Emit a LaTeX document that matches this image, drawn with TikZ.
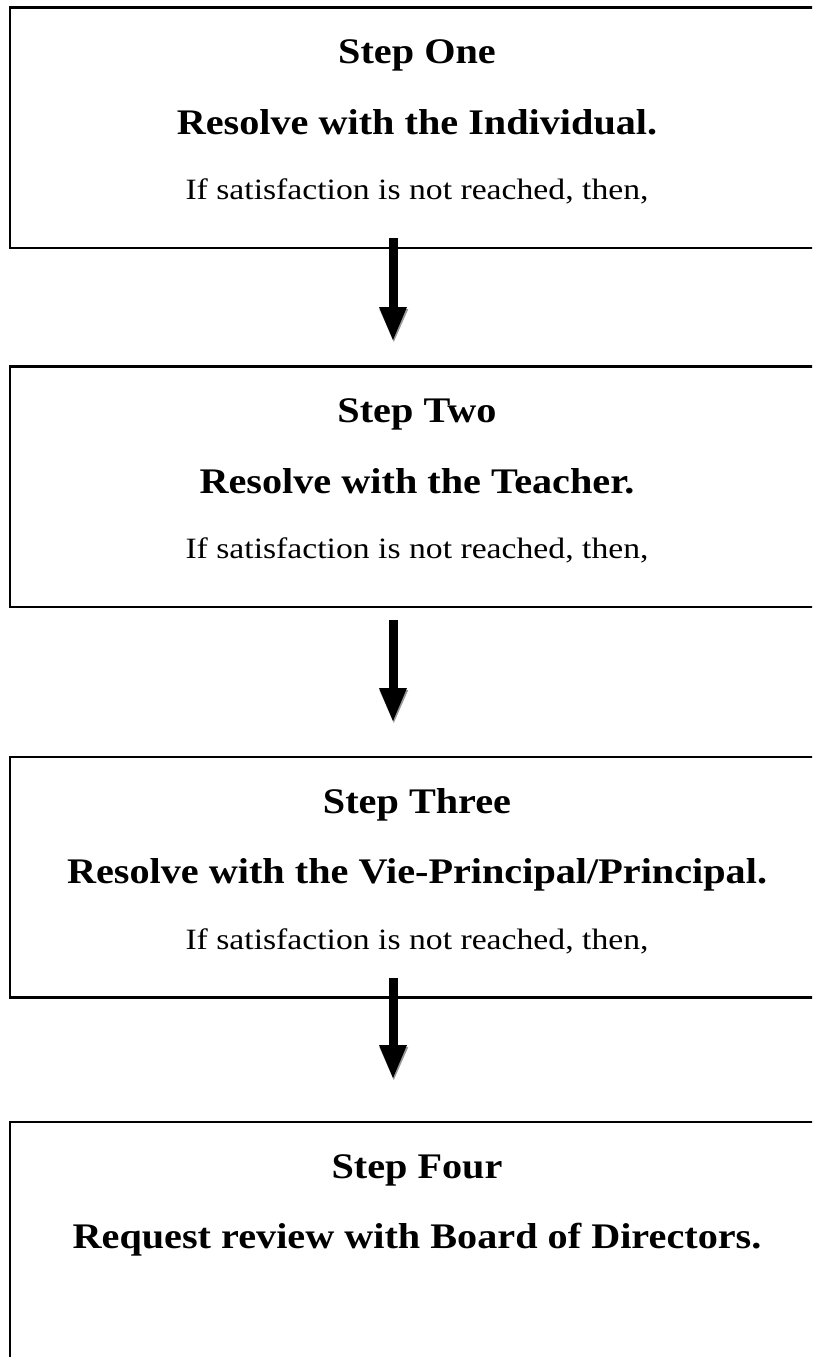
\documentclass[tikz,border=0pt]{standalone}
\usepackage{fontspec}
\setmainfont{Liberation Serif}
\usetikzlibrary{arrows.meta}
\newsavebox\measbox
\newlength\measlen
\newcommand\bfs{\fontsize{36}{40}\selectfont\bfseries}
\newcommand\rfs{\fontsize{29.5}{34}\selectfont}
\newcommand\btext[1]{\scalebox{\bfac}[1]{\bfs #1}}
\newcommand\rtext[1]{\scalebox{\rfac}[1]{\rfs #1}}
\tikzset{
  stepbox/.style={draw=black, line width=2.3pt, rectangle, minimum width=814pt,
    minimum height=240.5pt, anchor=north west, outer sep=0pt, inner sep=0pt},
  boxtext/.style={anchor=base, inner sep=0pt, outer sep=0pt, text=black},
  flow/.style={draw=black, line width=9pt,
    -{Triangle[width=28pt,length=33pt,line width=0pt]}},
  flowshadow/.style={draw=black!40, line width=9pt,
    -{Triangle[width=29pt,length=33pt,line width=0pt]}},
}
\begin{document}
\sbox\measbox{\bfs Resolve with the Vie-Principal/Principal.}%
\setlength\measlen{\wd\measbox}%
\pgfmathsetmacro\bfac{700/\measlen}%
\sbox\measbox{\rfs If satisfaction is not reached, then,}%
\setlength\measlen{\wd\measbox}%
\pgfmathsetmacro\rfac{463/\measlen}%
\begin{tikzpicture}[x=1pt,y=-1pt]
\useasboundingbox (0,0) rectangle (812,1357);
\clip (0,0) rectangle (812,1357);
\fill[white] (0,0) rectangle (812,1357);

% boxes
\node[stepbox] (b1) at (10,7.5) {};
\node[stepbox] (b2) at (10,366.5) {};
\node[stepbox] (b3) at (10,757) {};
\node[stepbox, minimum height=300pt] (b4) at (10,1122) {};

% texts
\node[boxtext] (t1a) at ([shift={(407,56)}]b1.north west) {\btext{Step One}};
\node[boxtext] (t1b) at ([shift={(407,126.5)}]b1.north west) {\btext{Resolve with the Individual.}};
\node[boxtext] (t1c) at ([shift={(407,192)}]b1.north west) {\rtext{If satisfaction is not reached, then,}};

\node[boxtext] (t2a) at ([shift={(407,56)}]b2.north west) {\btext{Step Two}};
\node[boxtext] (t2b) at ([shift={(407,126.5)}]b2.north west) {\btext{Resolve with the Teacher.}};
\node[boxtext] (t2c) at ([shift={(407,192)}]b2.north west) {\rtext{If satisfaction is not reached, then,}};

\node[boxtext] (t3a) at ([shift={(407,56)}]b3.north west) {\btext{Step Three}};
\node[boxtext] (t3b) at ([shift={(407,126.5)}]b3.north west) {\btext{Resolve with the Vie-Principal/Principal.}};
\node[boxtext] (t3c) at ([shift={(407,192)}]b3.north west) {\rtext{If satisfaction is not reached, then,}};

\node[boxtext] (t4a) at ([shift={(407,56)}]b4.north west) {\btext{Step Four}};
\node[boxtext] (t4b) at ([shift={(407,126.5)}]b4.north west) {\btext{Request review with Board of Directors.}};

% arrows
\coordinate (a1s) at (393,238);
\coordinate (a1e) at (393,340);
\coordinate (a2s) at (393,620);
\coordinate (a2e) at (393,721);
\coordinate (a3s) at (393,978);
\coordinate (a3e) at (393,1078);
\foreach \s/\e in {a1s/a1e,a2s/a2e,a3s/a3e}{
  \draw[flowshadow, transform canvas={xshift=0.8pt,yshift=-2pt}] (\s) -- (\e);
  \draw[flow] (\s) -- (\e);
}
\end{tikzpicture}
\end{document}
